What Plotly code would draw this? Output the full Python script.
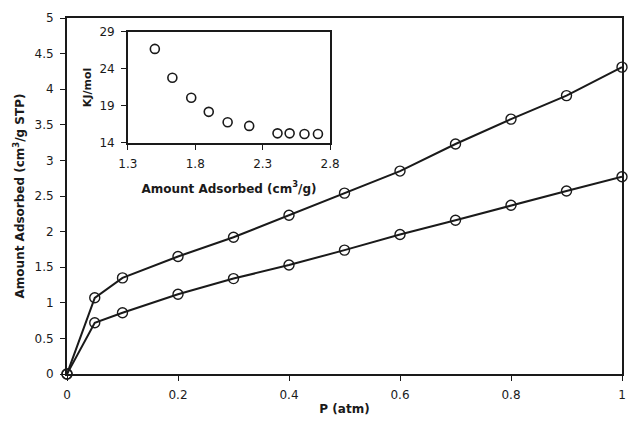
import plotly.graph_objects as go

# Main isotherms
pressure = [0, 0.05, 0.1, 0.2, 0.3, 0.4, 0.5, 0.6, 0.7, 0.8, 0.9, 1.0]
upper = [0, 1.07, 1.35, 1.65, 1.92, 2.23, 2.54, 2.85, 3.23, 3.58, 3.91, 4.31]
lower = [0, 0.72, 0.86, 1.12, 1.34, 1.53, 1.74, 1.96, 2.16, 2.37, 2.57, 2.77]

# Inset: heat of adsorption
inset_x = [1.50, 1.63, 1.77, 1.90, 2.04, 2.20, 2.41, 2.50, 2.61, 2.71]
inset_y = [26.7, 22.8, 20.1, 18.2, 16.8, 16.3, 15.3, 15.3, 15.2, 15.2]

main_yticks = [0, 0.5, 1, 1.5, 2, 2.5, 3, 3.5, 4, 4.5, 5]
main_xticks = [0, 0.2, 0.4, 0.6, 0.8, 1]
inset_xticks = [1.3, 1.8, 2.3, 2.8]
inset_yticks = [14, 19, 24, 29]

FONT = "DejaVu Sans"
INK = "#1a1a1a"
fig = go.Figure()
for ys in (upper, lower):
    fig.add_trace(go.Scatter(
        x=pressure, y=ys, mode="lines+markers",
        line=dict(color=INK, width=2),
        marker=dict(symbol="circle-open", size=10, color=INK, line=dict(width=1.4)),
        showlegend=False, cliponaxis=False))

fig.add_trace(go.Scatter(
    x=inset_x, y=inset_y, mode="markers", xaxis="x2", yaxis="y2",
    marker=dict(symbol="circle-open", size=9, color=INK, line=dict(width=1.6)),
    showlegend=False, cliponaxis=False))

axis_common = dict(showgrid=False, zeroline=False, showline=True, linecolor=INK,
                   ticks="outside", ticklen=5, tickcolor=INK, mirror=True,
                   ticklabelstandoff=4,
                   tickfont=dict(family=FONT, size=12, color=INK))

fig.update_layout(
    width=635, height=429,
    margin=dict(l=67, r=3, t=18, b=55),
    paper_bgcolor="white", plot_bgcolor="white",
    xaxis=dict(**axis_common, linewidth=2, range=[0, 1], tickvals=main_xticks,
               title=dict(text="<b>P (atm)</b>", font=dict(family=FONT, size=12, color=INK), standoff=3)),
    yaxis=dict(**axis_common, linewidth=2, range=[0, 5], tickvals=main_yticks,
               title=dict(text="<b>Amount Adsorbed (cm<sup>3</sup>/g STP)</b>",
                          font=dict(family=FONT, size=12, color=INK), standoff=7)),
    xaxis2=dict(**axis_common, linewidth=1.5, domain=[0.1097, 0.474], anchor="y2",
                range=[1.3, 2.8], tickvals=inset_xticks,
                title=dict(text="<b>Amount Adsorbed (cm<sup>3</sup>/g)</b>",
                           font=dict(family=FONT, size=12, color=INK), standoff=14)),
    yaxis2=dict(**axis_common, linewidth=1.5, domain=[0.649, 0.961], anchor="x2",
                range=[14, 29], tickvals=inset_yticks,
                title=dict(text="<b>KJ/mol</b>", font=dict(family=FONT, size=11, color=INK),
                           standoff=6)),
)

fig.write_html("out.html")
